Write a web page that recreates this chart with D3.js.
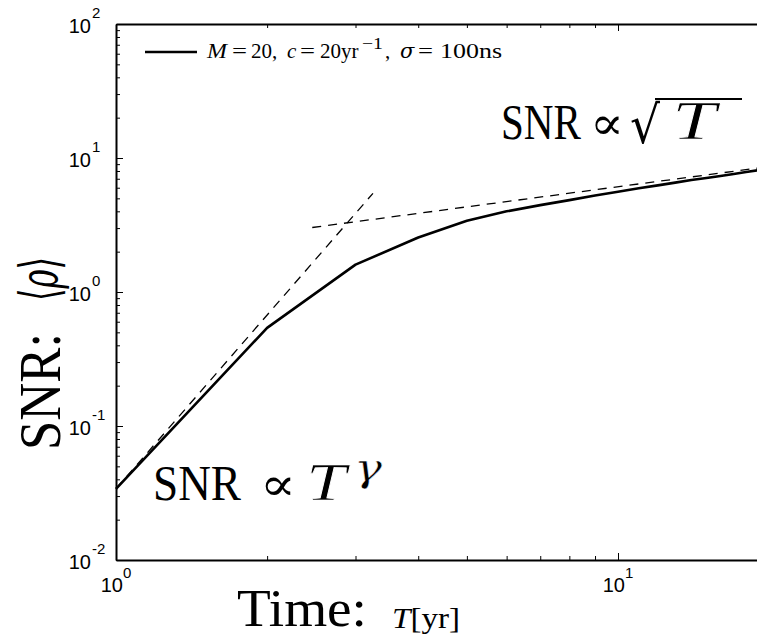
<!DOCTYPE html>
<html>
<head>
<meta charset="utf-8">
<script src="https://cdn.jsdelivr.net/npm/d3@7"></script>
<style>
  body { margin: 0; background: #fff; }
  svg { display: block; }
</style>
</head>
<body>
<svg id="chart" width="757" height="638"></svg>
<script>
// Mean SNR against observation time
const years = [1, 2, 3, 4, 5, 6, 7, 8, 9, 10, 11, 12, 13, 14, 15, 16, 17, 18, 19, 20];
const snrMean = [0.034, 0.54, 1.6, 2.55, 3.4, 4.0, 4.45, 4.85, 5.25, 5.6,
                 5.95, 6.25, 6.55, 6.85, 7.1, 7.35, 7.6, 7.85, 8.1, 8.3];

// Asymptotic power laws (dashed guides)
const earlyFitYears = [1, 3.25];
const earlyFitSNR = [0.034, 5.45];
const lateFitYears = [2.46, 20];
const lateFitSNR = [3.03, 8.63];

// Axis ticks
const xMajorTicks = [1, 10];
const xTickExponents = ["0", "1"];
const yMajorTicks = [0.01, 0.1, 1, 10, 100];
const yTickExponents = ["-2", "-1", "0", "1", "2"];

const SERIF = "'Liberation Serif', 'DejaVu Serif', serif";
const MATH = "'DejaVu Serif', serif";
const SANS = "'Liberation Sans', Arial, sans-serif";

const svg = d3.select("#chart");
const plotLeft = 116, plotTop = 24, plotBottom = 560, decadeWidth = 502;

const x = d3.scaleLog().domain([1, 20])
  .range([plotLeft, plotLeft + decadeWidth * Math.log10(20)]);
const y = d3.scaleLog().domain([0.01, 100]).range([plotBottom, plotTop]);

// minor ticks: 2..9 within each decade
const xMinorTicks = [2, 3, 4, 5, 6, 7, 8, 9, 20];
const yMinorTicks = [];
[0.01, 0.1, 1, 10].forEach(d => { for (let k = 2; k <= 9; k++) yMinorTicks.push(d * k); });

function axis(gen, tx, ty, values, size, keepDomain) {
  const g = svg.append("g")
    .attr("transform", `translate(${tx},${ty})`)
    .call(gen.tickValues(values).tickSize(-size).tickSizeOuter(0).tickFormat(""));
  g.selectAll(".tick line").attr("stroke", "#000").attr("stroke-width", 1);
  if (keepDomain) g.select(".domain").attr("stroke", "#000").attr("stroke-width", 2);
  else g.select(".domain").remove();
  return g;
}
const xRight = x.range()[1];
axis(d3.axisBottom(x), 0, plotBottom, xMinorTicks, 4, false);
axis(d3.axisBottom(x), 0, plotBottom, xMajorTicks, 7, true);
axis(d3.axisTop(x), 0, plotTop, xMinorTicks, 4, false);
axis(d3.axisTop(x), 0, plotTop, xMajorTicks, 7, true);
axis(d3.axisLeft(y), plotLeft, 0, yMinorTicks, 4, false);
axis(d3.axisLeft(y), plotLeft, 0, yMajorTicks, 7, true);
axis(d3.axisRight(y), xRight, 0, yMinorTicks, 4, false);
axis(d3.axisRight(y), xRight, 0, yMajorTicks, 7, true);

// tick labels: 10 with a superscript exponent
yMajorTicks.forEach((v, i) => {
  const ty = y(v);
  svg.append("text").attr("x", 91).attr("y", ty + 9)
    .attr("text-anchor", "end").attr("font-family", SANS).attr("font-size", 20)
    .text("10");
  svg.append("text").attr("x", 92).attr("y", ty - 6)
    .attr("font-family", SANS).attr("font-size", 15)
    .text(yTickExponents[i]);
});
xMajorTicks.forEach((v, i) => {
  const t = svg.append("text").attr("x", x(v)).attr("y", 592)
    .attr("text-anchor", "middle").attr("font-family", SANS).attr("font-size", 20);
  t.append("tspan").text("10");
  t.append("tspan").attr("font-size", 15).attr("dy", -14).text(xTickExponents[i]);
});

// lines
const line = d3.line().x(d => x(d[0])).y(d => y(d[1]));
svg.append("path").datum(d3.zip(earlyFitYears, earlyFitSNR))
  .attr("d", line).attr("fill", "none").attr("stroke", "#000")
  .attr("stroke-width", 1.3).attr("stroke-dasharray", "9,7");
svg.append("path").datum(d3.zip(lateFitYears, lateFitSNR))
  .attr("d", line).attr("fill", "none").attr("stroke", "#000")
  .attr("stroke-width", 1.3).attr("stroke-dasharray", "9,7");
svg.append("path").datum(d3.zip(years, snrMean))
  .attr("d", line).attr("fill", "none").attr("stroke", "#000")
  .attr("stroke-width", 2.6).attr("stroke-linejoin", "round");

// Text helper: places a string with its baseline start at (x0, y0) and,
// when a width is given, scales it horizontally to that width.
function token(str, x0, y0, size, opts = {}) {
  const g = svg.append("g");
  const t = g.append("text")
    .attr("font-family", opts.family || SERIF).attr("font-size", size).text(str);
  if (opts.italic) t.attr("font-style", "italic");
  if (opts.thin) t.attr("stroke", "#fff").attr("stroke-width", opts.thin);
  let sx = 1;
  if (opts.len) sx = opts.len / t.node().getComputedTextLength();
  g.attr("transform", `translate(${x0},${y0}) scale(${sx},1)`);
  return t;
}

// legend: sample line and label
svg.append("line").attr("x1", 145).attr("x2", 197).attr("y1", 52).attr("y2", 52)
  .attr("stroke", "#000").attr("stroke-width", 2.6);
const legY = 58, legSize = 21;
token("M", 207, legY, legSize, { italic: true, len: 20 });
token("=", 232, legY, legSize, { len: 15 });
token("20,", 251, legY, legSize);
token("c", 287, legY, legSize, { italic: true });
token("=", 300, legY, legSize, { len: 15 });
token("20yr", 320, legY, legSize);
token("\u22121", 362, legY - 9, 16, { len: 21 });
token(",", 385, legY, legSize);
token("\u03C3", 400, legY, legSize, { italic: true, family: MATH });
token("=", 418, legY, legSize, { len: 15 });
token("100ns", 440, legY, 22, { len: 62 });

// annotation: SNR ∝ √T
token("SNR", 501, 139, 50, { len: 80 });
token("\u221D", 590, 139, 46, { family: MATH, len: 34 });
token("\u221A", 630, 143, 52, { family: MATH, len: 30 });
svg.append("line").attr("x1", 655).attr("x2", 742).attr("y1", 99).attr("y2", 99)
  .attr("stroke", "#000").attr("stroke-width", 2);
token("T", 672, 139, 54, { italic: true, len: 44, thin: 0.7 });

// annotation: SNR ∝ T^γ
token("SNR", 153, 500, 50, { len: 88 });
token("\u221D", 260, 500, 46, { family: MATH, len: 36 });
token("T", 306, 500, 52, { italic: true, len: 40, thin: 0.7 });
token("\u03B3", 354, 481, 40, { italic: true, family: MATH, len: 28, thin: 0.5 });

// axis titles
svg.append("g").attr("transform", "translate(60,450) rotate(-90)")
  .append("text").attr("font-family", SERIF).attr("font-size", 60)
  .attr("textLength", 117).attr("lengthAdjust", "spacingAndGlyphs").text("SNR:");
const rho = svg.append("g").attr("transform", "translate(58,301) rotate(-90)")
  .append("text").attr("font-family", MATH).attr("font-size", 54)
  .attr("textLength", 44).attr("lengthAdjust", "spacingAndGlyphs");
rho.append("tspan").text("\u27E8");
rho.append("tspan").attr("font-style", "italic").text("\u03C1");
rho.append("tspan").text("\u27E9");

token("Time:", 237, 626, 52, { len: 130 });
const tl = svg.append("text").attr("x", 392).attr("y", 628)
  .attr("font-family", SERIF).attr("font-size", 30)
  .attr("textLength", 68).attr("lengthAdjust", "spacingAndGlyphs");
tl.append("tspan").attr("font-style", "italic").text("T");
tl.append("tspan").text("[yr]");
</script>
</body>
</html>
